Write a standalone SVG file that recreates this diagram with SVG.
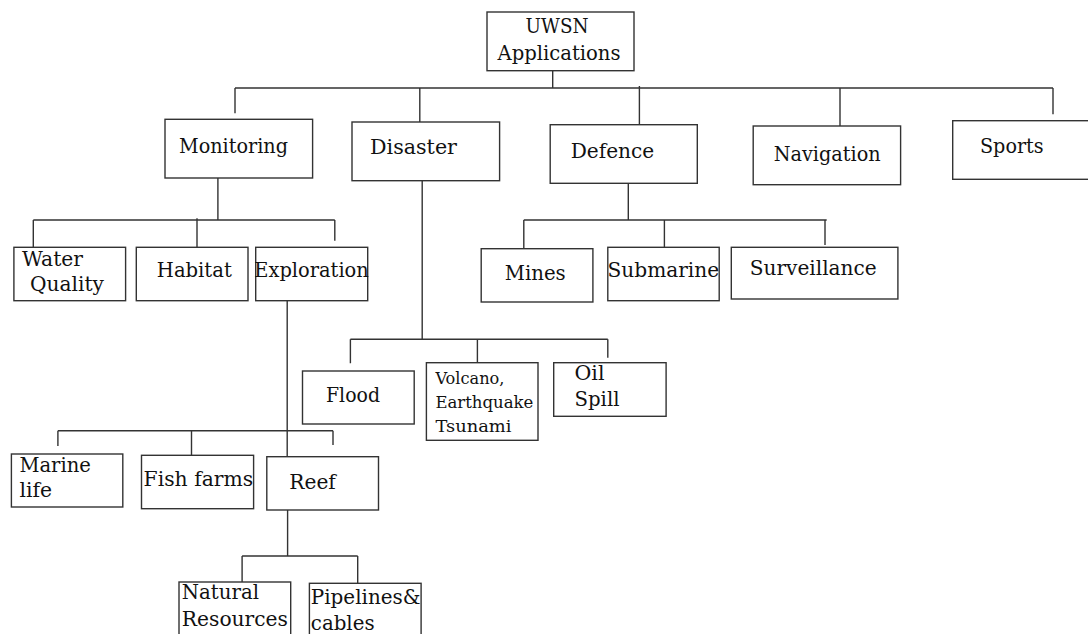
<svg xmlns="http://www.w3.org/2000/svg" width="1088" height="634" viewBox="0 0 1088 634">
<style>
rect{fill:#fff;stroke:#333;stroke-width:1.4}
#connectors path{fill:none;stroke:#333;stroke-width:1.4}
text{font-family:"DejaVu Serif","Liberation Serif",serif;font-size:20px;fill:#111}
text.s{font-size:16px}
</style>
<rect x="0" y="0" width="1088" height="634" style="stroke:none"/>
<g id="connectors">
<path d="M552.7 70.7V88M235 88H1053M235 88V113.3M419.8 88V122M639.4 86V124.7M840 88V126M1053 88V114.3"/>
<path d="M217.9 178V220M33.3 220H334.8M33.3 220V247.3M197 218.3V247.3M334.8 220V240.7"/>
<path d="M628.3 183.3V220M523.8 220H826.7M523.8 220V248.7M664.4 220V247.3M825 220V245"/>
<path d="M422.2 180.7V339.3M350.4 339.3H607.8M350.4 339.3V363.3M477.4 339.3V365M607.8 339.3V357.7"/>
<path d="M287.2 300.7V456.7M57.9 430.7H333M57.9 430.7V446M191.5 430.7V458M333 430.7V445"/>
<path d="M287.6 510V556M242.1 556H357.7M242.1 556V582M357.7 556V583.3"/>
</g>
<g id="root"><rect x="487" y="12" width="147" height="58.7"/><text x="525.6" y="33.3" textLength="63" lengthAdjust="spacingAndGlyphs">UWSN</text><text x="497.5" y="60" textLength="123" lengthAdjust="spacingAndGlyphs">Applications</text></g>
<g id="monitoring"><rect x="165" y="119.3" width="147.6" height="58.7"/><text x="179" y="153.3" textLength="109" lengthAdjust="spacingAndGlyphs">Monitoring</text></g>
<g id="disaster"><rect x="352" y="122" width="147.6" height="58.7"/><text x="370" y="154" textLength="87" lengthAdjust="spacingAndGlyphs">Disaster</text></g>
<g id="defence"><rect x="550.2" y="124.7" width="147.1" height="58.6"/><text x="570.7" y="158.3" textLength="83.6" lengthAdjust="spacingAndGlyphs">Defence</text></g>
<g id="navigation"><rect x="753.2" y="126" width="147.4" height="58.7"/><text x="773.7" y="161.3" textLength="107" lengthAdjust="spacingAndGlyphs">Navigation</text></g>
<g id="sports"><rect x="952.7" y="120.7" width="137" height="58.6"/><text x="980" y="152.7" textLength="63.6" lengthAdjust="spacingAndGlyphs">Sports</text></g>
<g id="water-quality"><rect x="13.9" y="247.3" width="111.7" height="53.4"/><text x="22" y="266" textLength="61" lengthAdjust="spacingAndGlyphs">Water</text><text x="30" y="290.7" textLength="74" lengthAdjust="spacingAndGlyphs">Quality</text></g>
<g id="habitat"><rect x="136.3" y="247.3" width="111.7" height="53.4"/><text x="156.8" y="276.7" textLength="75" lengthAdjust="spacingAndGlyphs">Habitat</text></g>
<g id="exploration"><rect x="255.7" y="247.3" width="112" height="53.4"/><text x="254.3" y="276.7" textLength="114.5" lengthAdjust="spacingAndGlyphs">Exploration</text></g>
<g id="mines"><rect x="481.2" y="248.7" width="111.7" height="53.3"/><text x="504.7" y="280" textLength="61" lengthAdjust="spacingAndGlyphs">Mines</text></g>
<g id="submarine"><rect x="607.8" y="247.3" width="111.4" height="53.4"/><text x="607.5" y="277.3" textLength="111.7" lengthAdjust="spacingAndGlyphs">Submarine</text></g>
<g id="surveillance"><rect x="731.3" y="247.3" width="166.6" height="51.7"/><text x="749.7" y="275.3" textLength="127" lengthAdjust="spacingAndGlyphs">Surveillance</text></g>
<g id="flood"><rect x="302.5" y="371" width="111.7" height="53"/><text x="326" y="401.7" textLength="54" lengthAdjust="spacingAndGlyphs">Flood</text></g>
<g id="volcano"><rect x="426.4" y="362.7" width="111.6" height="77.6"/><text class="s" x="435.4" y="384" textLength="69" lengthAdjust="spacingAndGlyphs">Volcano,</text><text class="s" x="435.4" y="408.3" textLength="98" lengthAdjust="spacingAndGlyphs">Earthquake</text><text class="s" x="435.4" y="431.7" textLength="76" lengthAdjust="spacingAndGlyphs">Tsunami</text></g>
<g id="oil-spill"><rect x="553.7" y="362.7" width="112.4" height="53.6"/><text x="574.5" y="380" textLength="30" lengthAdjust="spacingAndGlyphs">Oil</text><text x="574.5" y="406" textLength="45" lengthAdjust="spacingAndGlyphs">Spill</text></g>
<g id="marine-life"><rect x="11.4" y="454" width="111.4" height="53"/><text x="19.4" y="471.7" textLength="71.5" lengthAdjust="spacingAndGlyphs">Marine</text><text x="19.4" y="497.3" textLength="32.6" lengthAdjust="spacingAndGlyphs">life</text></g>
<g id="fish-farms"><rect x="141.5" y="455.3" width="112.1" height="53.4"/><text x="143.6" y="485.7" textLength="109.6" lengthAdjust="spacingAndGlyphs">Fish farms</text></g>
<g id="reef"><rect x="266.8" y="456.7" width="111.7" height="53.3"/><text x="289.3" y="489.3" textLength="46.5" lengthAdjust="spacingAndGlyphs">Reef</text></g>
<g id="natural-resources"><rect x="179" y="582" width="111.7" height="60"/><text x="181.8" y="599.3" textLength="77.3" lengthAdjust="spacingAndGlyphs">Natural</text><text x="181.8" y="626" textLength="106.2" lengthAdjust="spacingAndGlyphs">Resources</text></g>
<g id="pipelines-cables"><rect x="309.4" y="583.3" width="111.7" height="60"/><text x="310.8" y="604" textLength="109.7" lengthAdjust="spacingAndGlyphs">Pipelines&amp;</text><text x="310.8" y="630" textLength="63.8" lengthAdjust="spacingAndGlyphs">cables</text></g>
</svg>
